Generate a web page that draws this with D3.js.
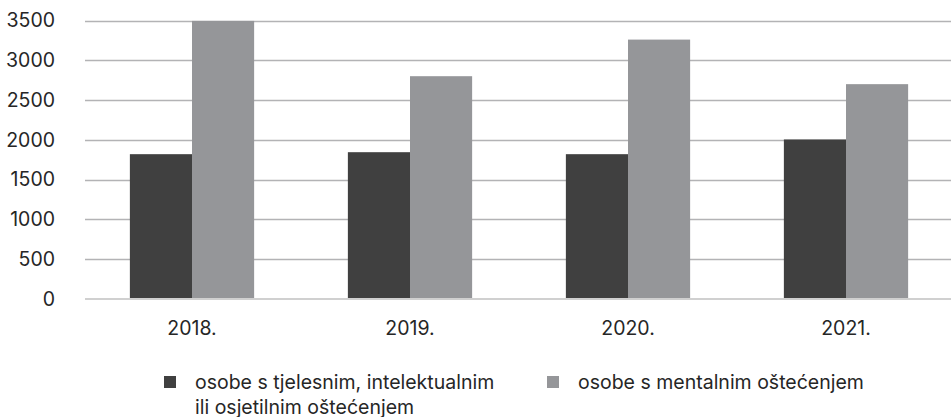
<!DOCTYPE html>
<html>
<head>
<meta charset="utf-8">
<script src="https://cdn.jsdelivr.net/npm/d3@7"></script>
<style>
  body { margin: 0; background: #fff; }
  text { font-family: Inter, "Open Sans", sans-serif; fill: #262626; }
</style>
</head>
<body>
<script>
var years = ["2018.", "2019.", "2020.", "2021."];
var seriesNames = ["osobe s tjelesnim, intelektualnim|ili osjetilnim oštećenjem", "osobe s mentalnim oštećenjem"];
var physical = [1820, 1845, 1820, 2005];
var mental = [3495, 2800, 3260, 2700];
var yTicks = [0, 500, 1000, 1500, 2000, 2500, 3000, 3500];
var colors = ["#404040", "#959699"];

var width = 951, height = 417;
var fs = "19.5px";

var svg = d3.select("body").append("svg")
  .attr("width", width)
  .attr("height", height);

var x = d3.scaleBand()
  .domain(years)
  .range([83, 955])
  .paddingInner(0.43)
  .paddingOuter(0.215);

var xInner = d3.scaleBand()
  .domain([0, 1])
  .range([0, x.bandwidth()]);

var y = d3.scaleLinear()
  .domain([0, 3500])
  .range([299, 20.5]);

// grid
svg.append("g")
  .selectAll("line")
  .data(yTicks.slice(1))
  .enter()
  .append("line")
  .attr("x1", 85)
  .attr("x2", width)
  .attr("y1", function(d){ return Math.round(y(d)) + 0.5; })
  .attr("y2", function(d){ return Math.round(y(d)) + 0.5; })
  .style("stroke", "#b3b3b5")
  .style("stroke-width", 1.3);

// y labels
var yAxis = d3.axisLeft(y).tickValues(yTicks).tickFormat(d3.format("d")).tickSize(0).tickPadding(0);
var yg = svg.append("g").attr("transform", "translate(55,0)").call(yAxis);
yg.select(".domain").remove();
yg.selectAll("text")
  .style("font-size", fs)
  .attr("fill", "#262626");

// bars
var data = years.map(function(yr, i){ return [physical[i], mental[i]]; });
var groups = svg.append("g")
  .selectAll("g")
  .data(data)
  .enter()
  .append("g")
  .attr("transform", function(d, i){ return "translate(" + x(years[i]) + ",0)"; });

groups.selectAll("rect")
  .data(function(d){ return d; })
  .enter()
  .append("rect")
  .attr("x", function(d, j){ return xInner(j); })
  .attr("y", function(d){ return y(d); })
  .attr("width", xInner.bandwidth())
  .attr("height", function(d){ return y(0) - y(d); })
  .style("fill", function(d, j){ return colors[j]; });

// baseline
svg.append("line")
  .attr("x1", 85)
  .attr("x2", width)
  .attr("y1", y(0))
  .attr("y2", y(0))
  .style("stroke", "#d0d0d0")
  .style("stroke-width", 2);

// x labels
var xAxis = d3.axisBottom(x).tickSize(0).tickPadding(0);
var xg = svg.append("g").attr("transform", "translate(0,321)").call(xAxis);
xg.select(".domain").remove();
xg.selectAll("text")
  .style("font-size", fs)
  .attr("dy", "0.71em")
  .attr("fill", "#262626");

// legend
var legendX = [164, 547];
var legend = svg.append("g")
  .selectAll("g")
  .data(seriesNames)
  .enter()
  .append("g")
  .attr("transform", function(d, i){ return "translate(" + legendX[i] + ",376)"; });

legend.append("rect")
  .attr("width", 12)
  .attr("height", 12)
  .style("fill", function(d, i){ return colors[i]; });

legend.append("text")
  .attr("x", 31)
  .attr("y", 13)
  .style("font-size", fs)
  .selectAll("tspan")
  .data(function(d){ return d.split("|"); })
  .enter()
  .append("tspan")
  .attr("x", 31)
  .attr("dy", function(d, k){ return k === 0 ? 0 : 25; })
  .text(function(d){ return d; });
</script>
</body>
</html>
